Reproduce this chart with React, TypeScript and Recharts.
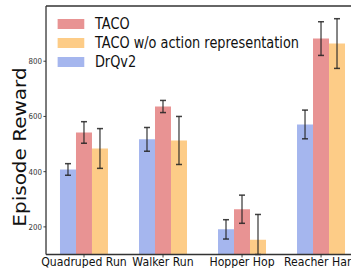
import { Bar, BarChart, ErrorBar, XAxis, YAxis, Label, ReferenceLine } from "recharts"

const categories = ["Quadruped Run", "Walker Run", "Hopper Hop", "Reacher Hard"]
const drqv2 = [408, 517, 191, 571]
const drqv2Err = [21, 43, 35, 52]
const taco = [542, 636, 264, 882]
const tacoErr = [39, 22, 51, 61]
const tacoNoAction = [484, 513, 153, 864]
// [below, above]; the Hopper Hop whisker runs into the bottom of the axes
const tacoNoActionErr = [[72, 72], [87, 87], [53, 92], [90, 90]]
const yTicks = [200, 400, 600, 800]

const data = categories.map((name, i) => ({
  name,
  drqv2: drqv2[i],
  drqv2Err: drqv2Err[i],
  taco: taco[i],
  tacoErr: tacoErr[i],
  tacoNoAction: tacoNoAction[i],
  tacoNoActionErr: tacoNoActionErr[i],
}))

const BLUE = "#a5b6ee"
const RED = "#e89393"
const ORANGE = "#fdcc87"
const FONT = "'DejaVu Sans', sans-serif"

// the reference image is squeezed horizontally, so draw wider and scale down
const SQUEEZE = 0.86

const legendItems = [
  { label: "TACO", color: RED },
  { label: "TACO w/o action representation", color: ORANGE },
  { label: "DrQv2", color: BLUE },
]

function LegendBox() {
  return (
    <div style={{ position: "absolute", left: 67.4, top: 14.5, fontFamily: FONT, fontSize: 15, color: "#111" }}>
      {legendItems.map((it) => (
        <div key={it.label} style={{ display: "flex", alignItems: "center", height: 19, whiteSpace: "nowrap" }}>
          <span style={{ display: "inline-block", width: 31, height: 10, background: it.color, marginRight: 12 }} />
          <span>{it.label}</span>
        </div>
      ))}
    </div>
  )
}

const XTick = (props: any) => {
  const { x, y, payload } = props
  return (
    <text x={x} y={y} dy={8.1} textAnchor="middle" fontFamily={FONT} fontSize={12.7} fill="#111">
      {payload.value}
    </text>
  )
}

const errProps = { width: 3.5, strokeWidth: 1.5, stroke: "#222", strokeOpacity: 0.85 }

export default function App() {
  return (
    <div style={{ position: "absolute", left: 0, top: 0, width: 351, height: 268, overflow: "hidden", background: "#fff" }}>
      <div style={{ position: "relative", width: 426, height: 268, transform: `scaleX(${SQUEEZE})`, transformOrigin: "0 0" }}>
        <BarChart
          width={426}
          height={268}
          data={data}
          margin={{ top: 6, right: 5, bottom: 0, left: 0 }}
          barGap={0}
          barSize={18.6}
        >
          <XAxis
            dataKey="name"
            interval={0}
            height={13.5}
            padding={{ left: -1.75, right: 1.75 }}
            tick={<XTick />}
            tickSize={3}
            tickMargin={0}
            axisLine={{ stroke: "#333", strokeWidth: 1.3 }}
            tickLine={{ stroke: "#333", strokeWidth: 1 }}
          />
          <YAxis
            width={53.5}
            domain={[100, 1000]}
            ticks={yTicks}
            allowDataOverflow
            tickSize={3}
            tickMargin={1.7}
            tick={{ fontFamily: FONT, fontSize: 8.2, fill: "#333" }}
            axisLine={{ stroke: "#333", strokeWidth: 1.5 }}
            tickLine={{ stroke: "#333", strokeWidth: 1 }}
          >
            <Label
              content={() => (
                <text x={23} y={147} transform="rotate(-90 23 147)" textAnchor="middle" dominantBaseline="central" fontFamily={FONT} fontSize={20} fill="#111">
                  Episode Reward
                </text>
              )}
            />
          </YAxis>
          <ReferenceLine y={1000} stroke="#333" strokeWidth={1.3} />
          <Bar dataKey="drqv2" name="DrQv2" fill={BLUE} isAnimationActive={false}>
            <ErrorBar dataKey="drqv2Err" direction="y" {...errProps} isAnimationActive={false} />
          </Bar>
          <Bar dataKey="taco" name="TACO" fill={RED} isAnimationActive={false}>
            <ErrorBar dataKey="tacoErr" direction="y" {...errProps} isAnimationActive={false} />
          </Bar>
          <Bar dataKey="tacoNoAction" name="TACO w/o action representation" fill={ORANGE} isAnimationActive={false}>
            <ErrorBar dataKey="tacoNoActionErr" direction="y" {...errProps} isAnimationActive={false} />
          </Bar>
        </BarChart>
        <LegendBox />
      </div>
    </div>
  )
}
